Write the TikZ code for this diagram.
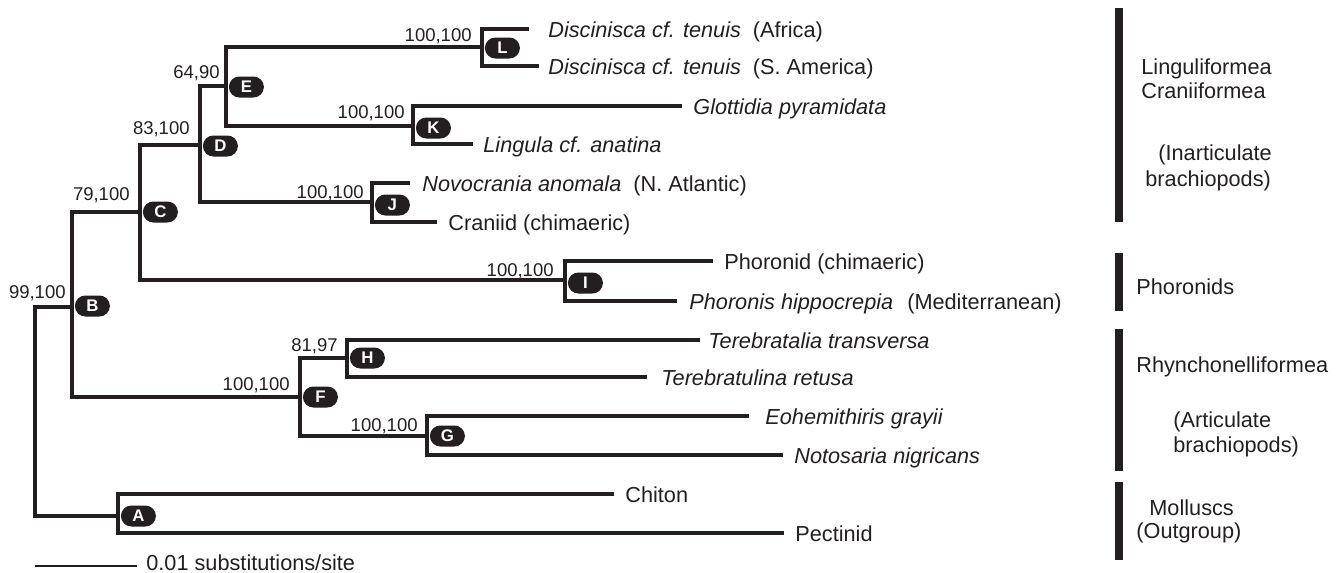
\documentclass[tikz,border=0pt]{standalone}
\usepackage{fontspec}
\setmainfont{Liberation Sans}
\definecolor{ink}{RGB}{35,31,32}
\begin{document}
\begin{tikzpicture}[x=0.5pt,y=-0.5pt,
  branch/.style={draw=ink, line width=1.6pt, line join=miter},
  pill/.style={anchor=west, fill=ink, rounded corners=5.25pt, minimum width=17.5pt, minimum height=10.5pt, inner sep=0pt, text=white, font=\bfseries\fontsize{8.4}{9}\selectfont},
  lbl/.style={anchor=base east, inner sep=0pt, text=ink, font=\fontsize{9.25}{11}\selectfont},
  leaf/.style={anchor=base west, inner sep=0pt, text=ink, font=\fontsize{10.85}{13}\selectfont},
  grp/.style={anchor=base west, inner sep=0pt, text=ink, font=\fontsize{10.85}{13}\selectfont},
  gbar/.style={fill=ink}]
\useasboundingbox (0,0) rectangle (1339,573);
% internal nodes (junction points)
\coordinate (R) at (35,411);
\coordinate (B) at (72,307);
\coordinate (C) at (140,212);
\coordinate (D) at (200,145);
\coordinate (E) at (226,86);
\coordinate (L) at (482,47);
\coordinate (K) at (413,126);
\coordinate (J) at (372,202);
\coordinate (I) at (565,280);
\coordinate (F) at (300,397);
\coordinate (H) at (347,358);
\coordinate (G) at (427,436);
\coordinate (A) at (118,516);
% leaf ends
\coordinate (l1) at (529,29);
\coordinate (l2) at (539,66);
\coordinate (k1) at (682,106);
\coordinate (k2) at (473,144);
\coordinate (j1) at (410,183);
\coordinate (j2) at (437,222);
\coordinate (i1) at (713,261);
\coordinate (i2) at (677,301);
\coordinate (h1) at (700,340);
\coordinate (h2) at (647,377);
\coordinate (g1) at (749,416);
\coordinate (g2) at (783,455);
\coordinate (a1) at (614,494);
\coordinate (a2) at (784,533);
% branches
\draw[branch] (B) -| (R) |- (A);
\draw[branch] (C) -| (B) |- (F);
\draw[branch] (D) -| (C) |- (I);
\draw[branch] (E) -| (D) |- (J);
\draw[branch] (L) -| (E) |- (K);
\draw[branch] (l1) -| (L) |- (l2);
\draw[branch] (k1) -| (K) |- (k2);
\draw[branch] (j1) -| (J) |- (j2);
\draw[branch] (i1) -| (I) |- (i2);
\draw[branch] (H) -| (F) |- (G);
\draw[branch] (h1) -| (H) |- (h2);
\draw[branch] (g1) -| (G) |- (g2);
\draw[branch] (a1) -| (A) |- (a2);
% pills
\node[pill] (pB) at (74.5,306) {B};
\node[pill] (pC) at (142.5,212) {C};
\node[pill] (pD) at (202.5,146) {D};
\node[pill] (pE) at (228.5,87) {E};
\node[pill] (pL) at (484.5,48) {L};
\node[pill] (pK) at (415.5,128) {K};
\node[pill] (pJ) at (374.5,205) {J};
\node[pill] (pI) at (567.5,283) {I};
\node[pill] (pF) at (302.5,397) {F};
\node[pill] (pH) at (349.5,358) {H};
\node[pill] (pG) at (429.5,436) {G};
\node[pill] (pA) at (120.5,516) {A};
% support labels
\node[lbl] (sB) at (66,298.6) {99,100};
\node[lbl] (sC) at (130,200.6) {79,100};
\node[lbl] (sD) at (190,134.6) {83,100};
\node[lbl] (sE) at (220,78.6) {64,90};
\node[lbl] (sL) at (472,41.6) {100,100};
\node[lbl] (sK) at (405,118.6) {100,100};
\node[lbl] (sJ) at (364,198.6) {100,100};
\node[lbl] (sI) at (554,276.6) {100,100};
\node[lbl] (sF) at (290,390.6) {100,100};
\node[lbl] (sH) at (338,351.6) {81,97};
\node[lbl] (sG) at (418,431) {100,100};
% leaf names
\node[leaf] (tl1) at (548,37) {\textit{Discinisca cf. tenuis}\hspace{6pt}(Africa)};
\node[leaf] (tl2) at (548,74) {\textit{Discinisca cf. tenuis}\hspace{6pt}(S. America)};
\node[leaf] (tk1) at (693,114) {\textit{Glottidia pyramidata}};
\node[leaf] (tk2) at (483,152) {\textit{Lingula cf. anatina}};
\node[leaf] (tj1) at (422,191) {\textit{Novocrania anomala}\hspace{6pt}(N. Atlantic)};
\node[leaf] (tj2) at (448,230) {Craniid (chimaeric)};
\node[leaf] (ti1) at (724,269) {Phoronid (chimaeric)};
\node[leaf] (ti2) at (689,309) {\textit{Phoronis hippocrepia}\hspace{7pt}(Mediterranean)};
\node[leaf] (th1) at (708,348) {\textit{Terebratalia transversa}};
\node[leaf] (th2) at (661,385) {\textit{Terebratulina retusa}};
\node[leaf] (tg1) at (765,424) {\textit{Eohemithiris grayii}};
\node[leaf] (tg2) at (794,463) {\textit{Notosaria nigricans}};
\node[leaf] (ta1) at (625,502) {Chiton};
\node[leaf] (ta2) at (795,541) {Pectinid};
% scale bar
\coordinate (s0) at (35,566);
\coordinate (s1) at (137,566);
\draw[draw=ink, line width=0.7pt] (s0) -- (s1);
\node[leaf] (scl) at (146,570) {0.01 substitutions/site};
% group bars
\fill[gbar] (1115,8) rectangle (1123,222);
\fill[gbar] (1115,253) rectangle (1123,311);
\fill[gbar] (1115,329) rectangle (1123,471);
\fill[gbar] (1115,482) rectangle (1123,560);
% group labels
\node[grp] (g1a) at (1141,74.5) {Linguliformea};
\node[grp] (g1b) at (1141,98.5) {Craniiformea};
\node[grp] (g1c) at (1158,160) {(Inarticulate};
\node[grp] (g1d) at (1145,186) {brachiopods)};
\node[grp] (g2a) at (1136,294.5) {Phoronids};
\node[grp] (g3a) at (1136,372) {Rhynchonelliformea};
\node[grp] (g3b) at (1173,427.7) {(Articulate};
\node[grp] (g3c) at (1173,452) {brachiopods)};
\node[grp] (g4a) at (1149,515) {Molluscs};
\node[grp] (g4b) at (1136,538) {(Outgroup)};
\end{tikzpicture}
\end{document}
